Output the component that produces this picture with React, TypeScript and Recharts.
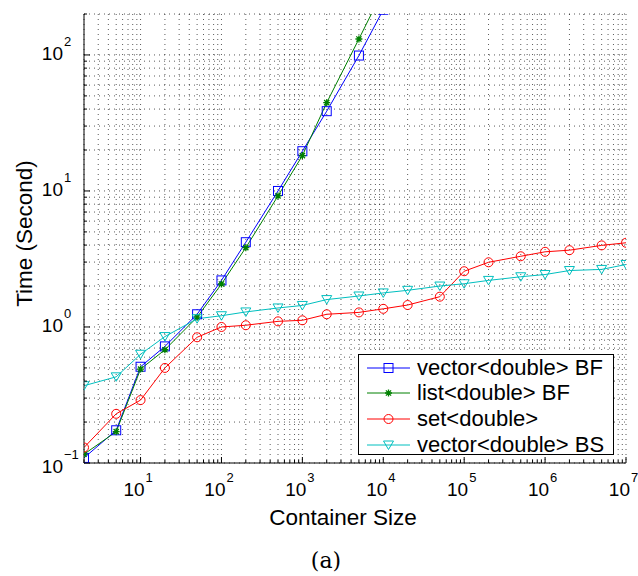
import { CartesianGrid, Legend, Line, LineChart, XAxis, YAxis } from "recharts";

const sizes = [2, 5, 10, 20, 50, 100, 200, 500, 1e3, 2e3, 5e3, 1e4, 2e4, 5e4, 1e5, 2e5, 5e5, 1e6, 2e6, 5e6, 1e7];
const vectorBF = [0.109, 0.174, 0.51, 0.72, 1.24, 2.2, 4.2, 10, 19.6, 38.6, 99, 215, null, null, null, null, null, null, null, null, null];
const listBF = [0.116, 0.17, 0.49, 0.68, 1.18, 2.07, 3.83, 9.2, 18.2, 44.6, 131, 300, null, null, null, null, null, null, null, null, null];
const setD = [0.13, 0.23, 0.29, 0.5, 0.84, 1.0, 1.03, 1.1, 1.12, 1.24, 1.28, 1.36, 1.45, 1.67, 2.57, 2.99, 3.31, 3.57, 3.67, 3.98, 4.16];
const vectorBS = [0.37, 0.43, 0.63, 0.85, 1.15, 1.21, 1.29, 1.38, 1.44, 1.59, 1.69, 1.78, 1.86, 2.0, 2.08, 2.2, 2.34, 2.43, 2.6, 2.65, 2.88];

const xDecades = [1, 10, 100, 1e3, 1e4, 1e5, 1e6];
const yDecades = [0.1, 1, 10, 100];
const steps = [1, 2, 3, 4, 5, 6, 7, 8, 9];

const xTicks = [...xDecades.flatMap((d) => steps.map((s) => s * d)).filter((v) => v >= 2), 1e7];
const yTicks = [...yDecades.flatMap((d) => steps.map((s) => +(s * d).toPrecision(3))), 200].filter(
  (v, i, a) => a.indexOf(v) === i && v <= 200
);

const series = [
  { key: "vbf", name: "vector<double> BF", color: "#0000ff", shape: "square", values: vectorBF },
  { key: "lbf", name: "list<double> BF", color: "#008000", shape: "star", values: listBF },
  { key: "set", name: "set<double>", color: "#ff0000", shape: "circle", values: setD },
  { key: "vbs", name: "vector<double> BS", color: "#00bfbf", shape: "triangle", values: vectorBS },
];

const rows = sizes.map((size, i) => {
  const row: Record<string, number | null> = { size };
  series.forEach((s) => (row[s.key] = s.values[i]));
  return row;
});

const FONT = '"Liberation Sans", Arial, Helvetica, sans-serif';

const isDecade = (v: number) => Math.abs(Math.log10(v) - Math.round(Math.log10(v))) < 1e-6;
const expOf = (v: number) => {
  const e = Math.round(Math.log10(v));
  return e < 0 ? `\u2212${-e}` : `${e}`;
};

function Marker({ shape, color, cx, cy }: { shape: string; color: string; cx: number; cy: number }) {
  switch (shape) {
    case "square":
      return <rect x={cx - 4.5} y={cy - 4.5} width={9} height={9} fill="none" stroke={color} />;
    case "star":
      return (
        <path
          d={`M${cx - 3.5},${cy}h7M${cx},${cy - 3.5}v7M${cx - 2.6},${cy - 2.6}l5.2,5.2M${cx - 2.6},${cy + 2.6}l5.2,-5.2`}
          stroke={color}
          strokeWidth={1.3}
          fill="none"
        />
      );
    case "circle":
      return <circle cx={cx} cy={cy} r={4.5} fill="none" stroke={color} />;
    default:
      return <path d={`M${cx - 5},${cy - 4}L${cx + 5},${cy - 4}L${cx},${cy + 4.5}Z`} fill="none" stroke={color} />;
  }
}

const makeDot = (shape: string, color: string) => (props: any) => {
  const { cx, cy, index } = props;
  if (cx == null || cy == null || Number.isNaN(cx) || Number.isNaN(cy)) return <g key={index} />;
  return (
    <g key={index}>
      <Marker shape={shape} color={color} cx={cx} cy={cy} />
    </g>
  );
};

// matlab style "10^n": base right-aligned at bx, exponent raised after it
function PowLabel({ bx, by, v }: { bx: number; by: number; v: number }) {
  return (
    <g fontFamily={FONT} fill="#000">
      <text x={bx} y={by} textAnchor="end" fontSize={19}>
        10
      </text>
      <text x={bx + 1} y={by - 14} textAnchor="start" fontSize={13}>
        {expOf(v)}
      </text>
    </g>
  );
}

function BottomTick({ x, y, payload }: any) {
  const v = payload.value;
  const major = isDecade(v);
  return (
    <g>
      <line x1={x} x2={x} y1={y} y2={y - (major ? 6 : 3)} stroke="#000" />
      {major && <PowLabel bx={x + 4} by={y + 33} v={v} />}
    </g>
  );
}

function TopTick({ x, y, payload }: any) {
  const major = isDecade(payload.value);
  return <line x1={x} x2={x} y1={y} y2={y + (major ? 6 : 3)} stroke="#000" />;
}

function LeftTick({ x, y, payload }: any) {
  const v = payload.value;
  const major = isDecade(v);
  return (
    <g>
      <line x1={x} x2={x + (major ? 6 : 3)} y1={y} y2={y} stroke="#000" />
      {major && <PowLabel bx={x - 21} by={y + (v === 0.1 ? 10 : 5)} v={v} />}
    </g>
  );
}

function RightTick({ x, y, payload }: any) {
  const major = isDecade(payload.value);
  return <line x1={x} x2={x - (major ? 6 : 3)} y1={y} y2={y} stroke="#000" />;
}

function XTitle({ viewBox }: any) {
  const { x, y, width } = viewBox;
  return (
    <text x={x + width / 2 - 12} y={y + 62} textAnchor="middle" fontFamily={FONT} fontSize={22.5} fill="#000">
      Container Size
    </text>
  );
}

function YTitle({ viewBox }: any) {
  const { x, y, height } = viewBox;
  const cx = x + 32;
  const cy = y + height / 2 - 5;
  return (
    <text
      x={cx}
      y={cy}
      transform={`rotate(-90, ${cx}, ${cy})`}
      textAnchor="middle"
      fontFamily={FONT}
      fontSize={22.5}
      fill="#000"
    >
      Time (Second)
    </text>
  );
}

function LegendBox() {
  return (
    <div
      style={{
        width: 256,
        height: 101,
        border: "1px solid #000",
        background: "#fff",
        boxSizing: "border-box",
        fontFamily: FONT,
        fontSize: 22,
        color: "#000",
      }}
    >
      {series.map((s) => (
        <div key={s.key} style={{ display: "flex", alignItems: "center", height: 25.6, whiteSpace: "nowrap" }}>
          <svg width={58} height={20} style={{ flex: "none" }}>
            <line x1={8} x2={51} y1={10} y2={10} stroke={s.color} />
            <Marker shape={s.shape} color={s.color} cx={29.5} cy={10} />
          </svg>
          <span style={{ lineHeight: "24px" }}>{s.name}</span>
        </div>
      ))}
    </div>
  );
}

export default function App() {
  return (
    <div style={{ position: "absolute", left: 0, top: 0, width: 638, height: 576, background: "#fff" }}>
      <LineChart width={638} height={576} data={rows} margin={{ top: 14, right: 12, bottom: 53, left: 0 }}>
        <CartesianGrid stroke="#000" strokeOpacity={0.65} strokeDasharray="1 4" />
        <XAxis
          dataKey="size"
          type="number"
          scale="log"
          domain={[2, 1e7]}
          allowDataOverflow
          ticks={xTicks}
          interval={0}
          tick={BottomTick}
          tickLine={false}
          tickSize={0}
          tickMargin={0}
          axisLine={{ stroke: "#000" }}
          height={60}
          label={<XTitle />}
        />
        <XAxis
          xAxisId="top"
          orientation="top"
          dataKey="size"
          type="number"
          scale="log"
          domain={[2, 1e7]}
          allowDataOverflow
          ticks={xTicks}
          interval={0}
          tick={TopTick}
          tickLine={false}
          tickSize={0}
          tickMargin={0}
          axisLine={{ stroke: "#000" }}
          height={0}
        />
        <YAxis
          type="number"
          scale="log"
          domain={[0.1, 200]}
          allowDataOverflow
          ticks={yTicks}
          interval={0}
          tick={LeftTick}
          tickLine={false}
          tickSize={0}
          tickMargin={0}
          axisLine={{ stroke: "#000" }}
          width={84}
          label={<YTitle />}
        />
        <YAxis
          yAxisId="right"
          orientation="right"
          type="number"
          scale="log"
          domain={[0.1, 200]}
          allowDataOverflow
          ticks={yTicks}
          interval={0}
          tick={RightTick}
          tickLine={false}
          tickSize={0}
          tickMargin={0}
          axisLine={{ stroke: "#000" }}
          width={0}
        />
        {series.map((s) => (
          <Line
            key={s.key}
            dataKey={s.key}
            name={s.name}
            stroke={s.color}
            strokeWidth={1}
            dot={makeDot(s.shape, s.color)}
            activeDot={false}
            isAnimationActive={false}
            connectNulls={false}
          />
        ))}
        <Legend
          layout="vertical"
          align="center"
          verticalAlign="middle"
          content={<LegendBox />}
          wrapperStyle={{ left: 358, top: 354, width: 256, height: 101 }}
        />
      </LineChart>
      <svg width={638} height={576} style={{ position: "absolute", left: 0, top: 0, pointerEvents: "none" }}>
        <text x={326} y={568} textAnchor="middle" fontFamily='"DejaVu Serif", "Liberation Serif", serif' fontSize={22} fill="#000">
          (a)
        </text>
      </svg>
    </div>
  );
}
